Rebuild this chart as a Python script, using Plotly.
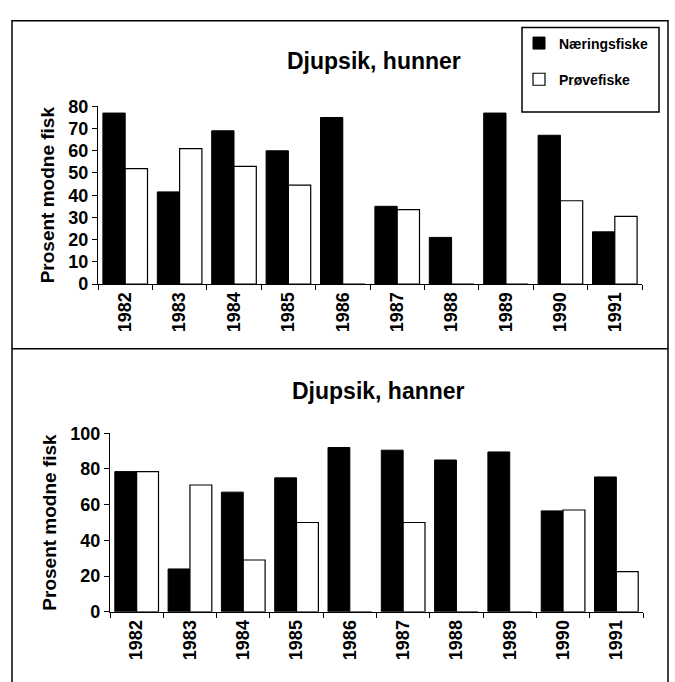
import plotly.graph_objects as go

# Andel kjønnsmoden fisk (%) per år, Djupsik
years = ["1982", "1983", "1984", "1985", "1986", "1987", "1988", "1989", "1990", "1991"]
hunner_naeringsfiske = [77, 41.5, 69, 60, 75, 35, 21, 77, 67, 23.5]
hunner_provefiske = [52, 61, 53, 44.5, 0, 33.5, 0, 0, 37.5, 30.5]
hanner_naeringsfiske = [78.5, 24, 67, 75, 92, 90.5, 85, 89.5, 56.5, 75.5]
hanner_provefiske = [78.5, 71, 29, 50, 0, 50, 0, 0, 57, 22.5]

W, H = 675, 682
FONT = "Liberation Sans, Arial, Helvetica, sans-serif"


def px(x):
    return x / W


def py(y):
    return 1 - y / H


black_bar = dict(color="black", line=dict(color="black", width=1))
white_bar = dict(color="white", line=dict(color="black", width=1.2))

fig = go.Figure()
fig.add_trace(go.Bar(x=years, y=hunner_naeringsfiske, name="Næringsfiske", marker=black_bar,
                     xaxis="x", yaxis="y", legendgroup="a"))
fig.add_trace(go.Bar(x=years, y=hunner_provefiske, name="Prøvefiske", marker=white_bar,
                     xaxis="x", yaxis="y", legendgroup="b"))
fig.add_trace(go.Bar(x=years, y=hanner_naeringsfiske, name="Næringsfiske", marker=black_bar,
                     xaxis="x2", yaxis="y2", showlegend=False))
fig.add_trace(go.Bar(x=years, y=hanner_provefiske, name="Prøvefiske", marker=white_bar,
                     xaxis="x2", yaxis="y2", showlegend=False))

tickfont = dict(family=FONT, size=18, color="black", weight="bold")
xcommon = dict(type="category", tickson="boundaries", ticks="outside", ticklen=5,
               tickcolor="black", tickwidth=1, tickangle=-90, showline=True,
               linecolor="black", linewidth=1.2, showgrid=False, tickfont=tickfont)
ycommon = dict(ticks="outside", ticklen=5, tickcolor="black", tickwidth=1, showline=True,
               linecolor="black", linewidth=1.2, showgrid=False, zeroline=False,
               tickfont=tickfont,
               title=dict(text="Prosent modne fisk", standoff=8,
                          font=dict(family=FONT, size=19, color="black", weight="bold")))

fig.update_layout(
    width=W, height=H,
    margin=dict(l=0, r=0, t=0, b=0),
    paper_bgcolor="white", plot_bgcolor="white",
    barmode="group", bargap=0.18, bargroupgap=0.0,
    xaxis=dict(domain=[px(98), px(642)], anchor="y", **xcommon),
    yaxis=dict(domain=[py(282.3), py(99.3)], anchor="x", range=[0, 80], dtick=10, **ycommon),
    xaxis2=dict(domain=[px(110), px(643)], anchor="y2", **xcommon),
    yaxis2=dict(domain=[py(620), py(436)], anchor="x2", range=[0, 100], dtick=20, **ycommon),
    showlegend=True,
    legend=dict(x=px(519), y=py(18), xanchor="left", yanchor="top",
                bgcolor="rgba(0,0,0,0)", borderwidth=0, traceorder="grouped",
                tracegroupgap=15,
                font=dict(family=FONT, size=14, color="black", weight="bold")),
    annotations=[
        dict(text="Djupsik, hunner", x=px(374), y=py(53), xref="paper", yref="paper",
             showarrow=False, xanchor="center", yanchor="middle",
             font=dict(family=FONT, size=23, color="black", weight="bold")),
        dict(text="Djupsik, hanner", x=px(378), y=py(393), xref="paper", yref="paper",
             showarrow=False, xanchor="center", yanchor="middle",
             font=dict(family=FONT, size=23, color="black", weight="bold")),
    ],
    shapes=[
        # outer frame and divider between the two panels
        dict(type="rect", xref="paper", yref="paper", x0=px(12), x1=px(668), y0=py(700), y1=py(11),
             line=dict(color="black", width=1.5)),
        dict(type="line", xref="paper", yref="paper", x0=px(12), x1=px(668), y0=py(349), y1=py(349),
             line=dict(color="black", width=1.5)),
        # legend box
        dict(type="rect", xref="paper", yref="paper", x0=px(522), x1=px(659), y0=py(105), y1=py(18),
             line=dict(color="black", width=1.5)),
    ],
)

fig.write_html("out.html")
